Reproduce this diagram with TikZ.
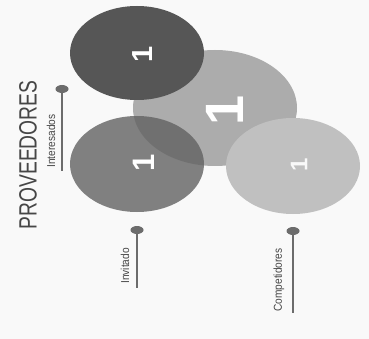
\documentclass[tikz,border=0pt]{standalone}
\usepackage{fontspec}
\setmainfont{Liberation Sans}
\usetikzlibrary{shapes.geometric}
\definecolor{cdark}{RGB}{86,86,86}
\definecolor{cleft}{RGB}{98,98,98}
\definecolor{cmid}{RGB}{172,172,172}
\definecolor{cright}{RGB}{192,192,192}
\definecolor{cpin}{RGB}{108,108,108}
\definecolor{ctext}{RGB}{70,70,70}
\definecolor{cbg}{RGB}{249,249,249}
\begin{document}
\begin{tikzpicture}[x=1pt,y=-1pt,
  blob/.style={ellipse,inner sep=0pt,draw=none},
  num/.style={rotate=90,text=white,inner sep=0pt,font=\bfseries},
  pindot/.style={ellipse,fill=cpin,inner sep=0pt,minimum width=13pt,minimum height=8pt},
  pinline/.style={draw=cpin,line width=2pt},
  lbl/.style={rotate=90,text=ctext,inner sep=0pt,font=\fontsize{11.5}{13}\selectfont}]
\fill[cbg] (0,0) rectangle (369,339);
\useasboundingbox (0,0) rectangle (369,339);
% circles
\node[blob,fill=cmid,minimum width=164pt,minimum height=116pt] (mid) at (215,108) {};
\node[blob,fill=cleft,fill opacity=0.8,minimum width=134pt,minimum height=96pt] (left) at (137,164) {};
\node[blob,fill=cdark,minimum width=134pt,minimum height=94pt] (top) at (137,53) {};
\node[blob,fill=cright,minimum width=134pt,minimum height=96pt] (right) at (293,166) {};
% numbers
\node[num,font=\bfseries\fontsize{29}{30}\selectfont] (n1) at (143,54) {1};
\node[num,font=\bfseries\fontsize{54}{56}\selectfont] (n2) at (225,110) {1};
\node[num,font=\bfseries\fontsize{31}{32}\selectfont] (n3) at (144,163) {1};
\node[num,text=white!90!cright,font=\bfseries\fontsize{24}{25}\selectfont] (n4) at (299,165) {1};
% title
\node[rotate=90,text=ctext,inner sep=0pt] (title) at (28,155) {\scalebox{0.77}[1]{\fontsize{25}{27}\selectfont PROVEEDORES}};
% pins
\node[pindot] (d1) at (62,89) {};
\coordinate (e1) at (62,171);
\draw[pinline] (d1) -- (e1);
\node[lbl] (l1) at (51,141) {\scalebox{0.88}[1]{Interesados}};
\node[pindot] (d2) at (137,230) {};
\coordinate (e2) at (137,288);
\draw[pinline] (d2) -- (e2);
\node[lbl] (l2) at (125,266) {\scalebox{0.88}[1]{Invitado}};
\node[pindot] (d3) at (293,231) {};
\coordinate (e3) at (293,313);
\draw[pinline] (d3) -- (e3);
\node[lbl] (l3) at (279,280) {\scalebox{0.88}[1]{Competidores}};
\end{tikzpicture}
\end{document}
